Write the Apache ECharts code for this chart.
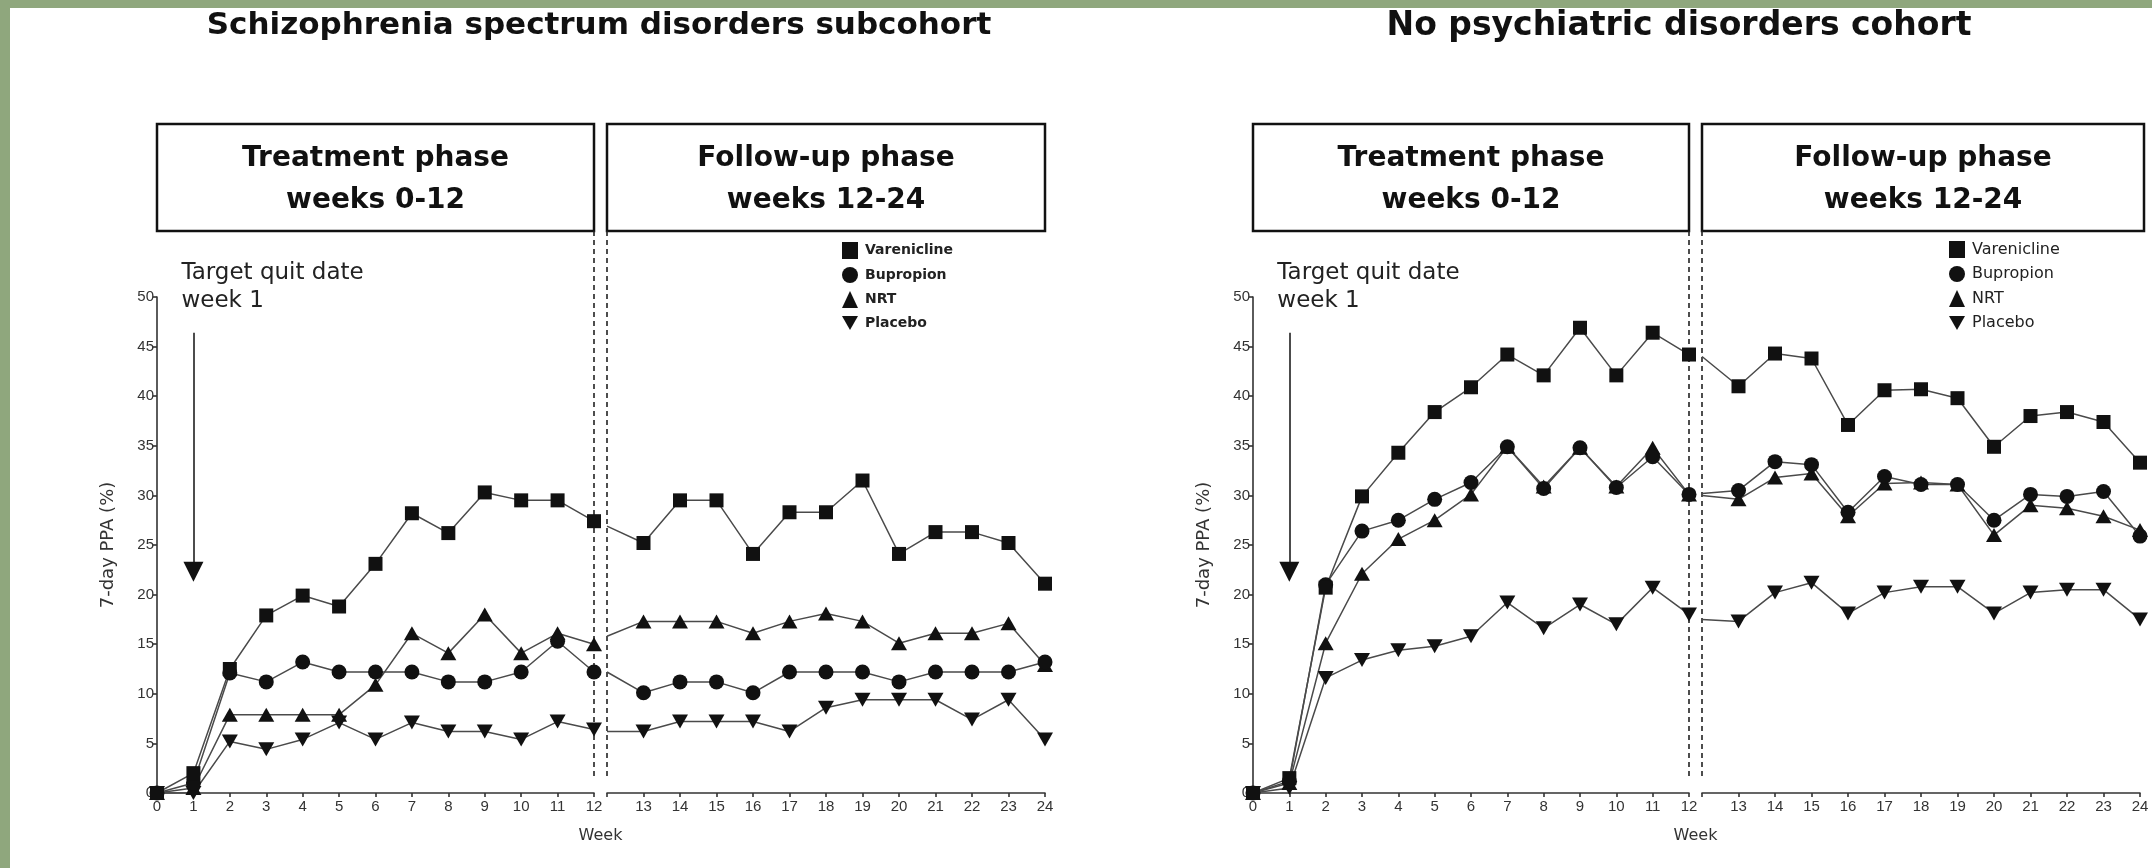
<!DOCTYPE html>
<html><head><meta charset="utf-8">
<script src="https://cdn.jsdelivr.net/npm/echarts@6/dist/echarts.min.js"></script>
<style>html,body{margin:0;padding:0;background:#fff}#c{width:2152px;height:868px}</style>
</head><body><div id="c"></div>
<script>
// ---------- data ----------
const weeksTreat = [0,1,2,3,4,5,6,7,8,9,10,11,12];
const weeksFollow = [12,13,14,15,16,17,18,19,20,21,22,23,24];
const drugNames = ['Varenicline','Bupropion','NRT','Placebo'];
const panelTitles = ['Schizophrenia spectrum disorders subcohort','No psychiatric disorders cohort'];
const phaseLabels = ['Treatment phase\nweeks 0-12','Follow-up phase\nweeks 12-24'];
const quitLabel = 'Target quit date\nweek 1';
const yAxisName = '7-day PPA (%)';
const xAxisName = 'Week';

// Schizophrenia spectrum disorders subcohort (first point of follow-up = line start at week 12)
const schVarenTreat = [0, 2.0, 12.5, 17.9, 19.9, 18.8, 23.1, 28.2, 26.2, 30.3, 29.5, 29.5, 27.4];
const schVarenFollow = [26.9, 25.2, 29.5, 29.5, 24.1, 28.3, 28.3, 31.5, 24.1, 26.3, 26.3, 25.2, 21.1];
const schBupTreat = [0, 1.0, 12.1, 11.2, 13.2, 12.2, 12.2, 12.2, 11.2, 11.2, 12.2, 15.3, 12.2];
const schBupFollow = [12.2, 10.1, 11.2, 11.2, 10.1, 12.2, 12.2, 12.2, 11.2, 12.2, 12.2, 12.2, 13.2];
const schNrtTreat = [0, 0.5, 7.9, 7.9, 7.9, 7.9, 10.9, 16.1, 14.1, 18.0, 14.1, 16.1, 15.0];
const schNrtFollow = [15.8, 17.3, 17.3, 17.3, 16.1, 17.3, 18.1, 17.3, 15.1, 16.1, 16.1, 17.1, 12.9];
const schPlaTreat = [0, 0, 5.2, 4.4, 5.4, 7.1, 5.4, 7.1, 6.2, 6.2, 5.4, 7.2, 6.4];
const schPlaFollow = [6.2, 6.2, 7.2, 7.2, 7.2, 6.2, 8.6, 9.4, 9.4, 9.4, 7.4, 9.4, 5.4];

// No psychiatric disorders cohort
const npVarenTreat = [0, 1.5, 20.7, 29.9, 34.3, 38.4, 40.9, 44.2, 42.1, 46.9, 42.1, 46.4, 44.2];
const npVarenFollow = [44.0, 41.0, 44.3, 43.8, 37.1, 40.6, 40.7, 39.8, 34.9, 38.0, 38.4, 37.4, 33.3];
const npBupTreat = [0, 1.2, 21.0, 26.4, 27.5, 29.6, 31.3, 34.9, 30.7, 34.8, 30.8, 33.9, 30.1];
const npBupFollow = [30.2, 30.5, 33.4, 33.1, 28.3, 31.9, 31.1, 31.1, 27.5, 30.1, 29.9, 30.4, 25.9];
const npNrtTreat = [0, 1.0, 15.1, 22.1, 25.6, 27.5, 30.1, 34.9, 30.9, 34.8, 30.9, 34.8, 30.1];
const npNrtFollow = [30.0, 29.6, 31.8, 32.2, 27.9, 31.2, 31.3, 31.1, 26.0, 29.0, 28.7, 27.9, 26.5];
const npPlaTreat = [0, 0.5, 11.6, 13.4, 14.4, 14.8, 15.8, 19.2, 16.6, 19.0, 17.0, 20.7, 18.0];
const npPlaFollow = [17.5, 17.3, 20.2, 21.2, 18.1, 20.2, 20.8, 20.8, 18.1, 20.2, 20.5, 20.5, 17.5];

// ---------- layout / style ----------
const INV_TRI = 'path://M0,0L20,0L10,17.3Z';
const symbols = {Varenicline:'rect', Bupropion:'circle', NRT:'triangle', Placebo:INV_TRI};
const symSizes = {Varenicline:14, Bupropion:15, NRT:[16,14], Placebo:[16,14]};
const GRID_TOP = 297, GRID_H = 496;
const grids = [
  {left:157, top:GRID_TOP, width:437, height:GRID_H},
  {left:607, top:GRID_TOP, width:438, height:GRID_H},
  {left:1253, top:GRID_TOP, width:436, height:GRID_H},
  {left:1702, top:GRID_TOP, width:438, height:GRID_H}
];
const BOX_TOP = 124, BOX_BOTTOM = 231;
const FONT = 'DejaVu Sans';
const TICKFONT = 'Liberation Sans';

const panels = [
  {gT:0, gF:1, data:{
    Varenicline:[schVarenTreat, schVarenFollow], Bupropion:[schBupTreat, schBupFollow],
    NRT:[schNrtTreat, schNrtFollow], Placebo:[schPlaTreat, schPlaFollow]}},
  {gT:2, gF:3, data:{
    Varenicline:[npVarenTreat, npVarenFollow], Bupropion:[npBupTreat, npBupFollow],
    NRT:[npNrtTreat, npNrtFollow], Placebo:[npPlaTreat, npPlaFollow]}}
];

function lineSeries(name, weeks, vals, gi, hideFirst, extra) {
  const s = {
    type:'line', name, xAxisIndex:gi, yAxisIndex:gi,
    data: weeks.map((w,i) => (hideFirst && i===0) ? {value:[w, vals[i]], symbol:'none'} : [w, vals[i]]),
    symbol: symbols[name], symbolSize: symSizes[name], showSymbol:true, showAllSymbol:true,
    itemStyle:{color:'#111'}, lineStyle:{color:'#4a4a4a', width:1.5},
    emphasis:{disabled:true}, animation:false
  };
  return Object.assign(s, extra || {});
}

const series = [];
panels.forEach(p => {
  ['Placebo','NRT','Bupropion','Varenicline'].forEach(name => {
    const [tv, fv] = p.data[name];
    const extra = name === 'Varenicline' ? {markLine:{
      silent:true, animation:false, symbol:['none','triangle'], symbolSize:20,
      label:{show:false}, lineStyle:{color:'#111', width:1.5, type:'solid'},
      data:[[{coord:[1, 46.4]}, {coord:[1, 22.3]}]]
    }} : null;
    series.push(lineSeries(name, weeksTreat, tv, p.gT, false, extra));
    series.push(lineSeries(name, weeksFollow, fv, p.gF, true));
  });
});

const axisLineStyle = {color:'#333', width:1.6};
function xAxis(gi, min, max, hideMinLabel) {
  return {type:'value', gridIndex:gi, min, max, interval:1,
    axisLine:{show:true, onZero:false, lineStyle:axisLineStyle},
    axisTick:{show:true, length:4, lineStyle:axisLineStyle},
    splitLine:{show:false},
    axisLabel:{fontSize:15, color:'#333', fontFamily:TICKFONT, margin:6,
      formatter: v => (hideMinLabel && v === min) ? '' : String(v)}};
}
function yAxis(gi, visible) {
  return {type:'value', gridIndex:gi, min:0, max:50, interval:5, show:visible,
    name: visible ? yAxisName : '', nameLocation:'middle', nameGap:40,
    nameTextStyle:{fontSize:18, color:'#333', fontFamily:FONT},
    axisLine:{show:true, lineStyle:axisLineStyle},
    axisTick:{show:true, length:4, lineStyle:axisLineStyle},
    splitLine:{show:false},
    axisLabel:{fontSize:15, color:'#333', fontFamily:TICKFONT, margin:3}};
}

const legendData = [
  {name:'Varenicline', icon:'rect'},
  {name:'Bupropion', icon:'circle'},
  {name:'NRT', icon:'triangle'},
  {name:'Placebo', icon:INV_TRI}
];
function legend(left, top, bold, size) {
  return {left, top, orient:'vertical', padding:0, itemWidth:16, itemHeight:17, itemGap:8,
    selectedMode:false, data:legendData, itemStyle:{color:'#111'},
    lineStyle:{width:0, opacity:0},
    textStyle:{fontFamily:FONT, fontWeight: bold ? 'bold' : 'normal', fontSize:size, color:'#222', padding:[0,0,0,2]}};
}

const chart = echarts.init(document.getElementById('c'), null, {renderer:'canvas'});
chart.setOption({
  animation:false,
  backgroundColor:'#ffffff',
  grid: grids,
  xAxis:[xAxis(0,0,12,false), xAxis(1,12,24,true), xAxis(2,0,12,false), xAxis(3,12,24,true)],
  yAxis:[yAxis(0,true), yAxis(1,false), yAxis(2,true), yAxis(3,false)],
  legend:[legend(842, 242, true, 14), legend(1949, 241, false, 16)],
  series
});

// ---------- annotations positioned through the axes ----------
const g = [];
g.push({type:'rect', shape:{x:0, y:0, width:2152, height:8}, style:{fill:'#8fa77d'}, z:100});
g.push({type:'rect', shape:{x:0, y:0, width:10, height:868}, style:{fill:'#8fa77d'}, z:100});
const titleX = [599, 1679];
const titleSize = [31, 33];
panels.forEach((p, pi) => {
  const x0 = chart.convertToPixel({xAxisIndex:p.gT}, 0);
  const x12a = chart.convertToPixel({xAxisIndex:p.gT}, 12);
  const x12b = chart.convertToPixel({xAxisIndex:p.gF}, 12);
  const x24 = chart.convertToPixel({xAxisIndex:p.gF}, 24);
  const x1 = chart.convertToPixel({xAxisIndex:p.gT}, 1);
  const yDashBottom = chart.convertToPixel({yAxisIndex:p.gT}, 1.7);
  // title
  g.push({type:'text', style:{text:panelTitles[pi], x:titleX[pi], y:26, align:'center', verticalAlign:'middle',
    textAlign:'center', textVerticalAlign:'middle', fontSize:titleSize[pi], fontWeight:'bold', fontFamily:FONT, fill:'#111'}});
  // phase boxes
  [[x0, x12a], [x12b, x24 + (pi === 1 ? 4 : 0)]].forEach((b, bi) => {
    g.push({type:'rect', shape:{x:b[0], y:BOX_TOP, width:b[1]-b[0], height:BOX_BOTTOM-BOX_TOP},
      style:{fill:'none', stroke:'#111', lineWidth:2.5}});
    g.push({type:'text', style:{text:phaseLabels[bi], x:(b[0]+b[1])/2, y:180, align:'center', verticalAlign:'middle',
      textAlign:'center', textVerticalAlign:'middle', fontSize:28, lineHeight:42, fontWeight:'bold', fontFamily:FONT, fill:'#111'}});
  });
  // dashed phase separators
  [x12a, x12b].forEach(x => {
    g.push({type:'line', shape:{x1:x, y1:BOX_BOTTOM, x2:x, y2:yDashBottom},
      style:{stroke:'#222', lineWidth:1.6, lineDash:[5,4]}});
  });
  // quit-date text
  g.push({type:'text', style:{text:quitLabel, x:x1 - 12, y:287, align:'left', verticalAlign:'middle',
    textAlign:'left', textVerticalAlign:'middle', fontSize:23, lineHeight:28, fontFamily:FONT, fill:'#222'}});
  // x axis name
  g.push({type:'text', style:{text:xAxisName, x:(x12a + x12b)/2, y:836, align:'center', verticalAlign:'middle',
    textAlign:'center', textVerticalAlign:'middle', fontSize:16, fontFamily:FONT, fill:'#333'}});
});
chart.setOption({graphic:g});
</script>
</body></html>
